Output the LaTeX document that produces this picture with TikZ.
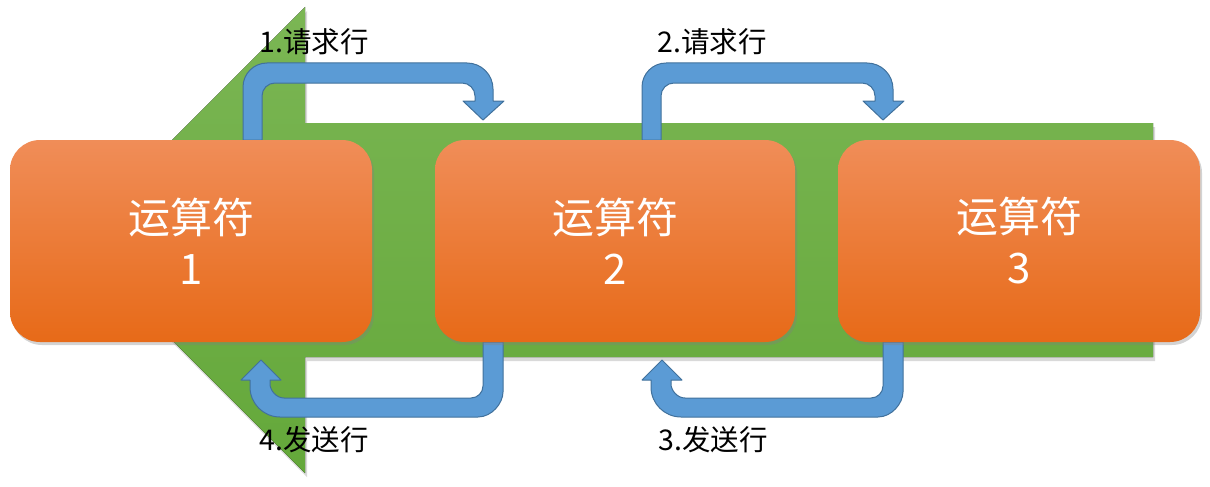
\documentclass[tikz,border=0pt]{standalone}
\usepackage{fontspec}
\setmainfont{Noto Sans CJK SC}
\usetikzlibrary{shadows}
\definecolor{gtop}{RGB}{123,182,84}
\definecolor{gbot}{RGB}{100,168,58}
\definecolor{otop}{RGB}{240,141,88}
\definecolor{omid}{RGB}{243,128,48}
\definecolor{obot}{RGB}{231,106,24}
\definecolor{bfill}{RGB}{91,155,213}
\definecolor{bline}{RGB}{65,113,156}
\tikzset{
  opbox/.style={rounded corners=30pt, minimum width=362pt, minimum height=202pt, inner sep=0pt,
    top color=otop, middle color=omid, bottom color=obot, draw=none,
    text=white, align=center, font=\fontsize{42}{51}\selectfont,
    drop shadow={shadow xshift=2pt, shadow yshift=-3pt, opacity=0.35}},
  blockarrow/.style={fill=bfill, draw=bline, line width=1pt, line join=round},
  lbl/.style={text=black, font=\fontsize{28.5}{32}\selectfont, inner sep=0pt}
}
% top U arrow: #1 shaft left x, #2 outer right x
\newcommand\toparrow[2]{%
  \draw[blockarrow] (#1,140) -- (#1,87) .. controls (#1,73.75) and ({#1+10.75},63) .. ({#1+24},63)
    -- ({#2-26},63) .. controls ({#2-11.65},63) and (#2,74.65) .. (#2,89)
    -- (#2,101) -- ({#2+11},101) -- ({#2-10},120) -- ({#2-30},101) -- ({#2-18},101)
    -- ({#2-18},96) .. controls ({#2-18},88.82) and ({#2-23.82},83) .. ({#2-31},83)
    -- ({#1+32},83) .. controls ({#1+24.82},83) and ({#1+19},88.82) .. ({#1+19},96)
    -- ({#1+19},140) -- cycle;}
% bottom U arrow: #1 shaft right x, #2 outer left x
\newcommand\botarrow[2]{%
  \draw[blockarrow] ({#1-20},342) -- ({#1-20},386) .. controls ({#1-20},392.62) and ({#1-25.38},398) .. ({#1-32},398)
    -- ({#2+34},398) .. controls ({#2+26.27},398) and ({#2+20},390.27) .. ({#2+20},384)
    -- ({#2+20},380) -- ({#2+31},380) -- ({#2+11},360) -- ({#2-9},380) -- (#2,380)
    -- (#2,387) .. controls (#2,403.56) and ({#2+13.44},417) .. ({#2+30},417)
    -- ({#1-25},417) .. controls ({#1-11.2},417) and (#1,403.2) .. (#1,392)
    -- (#1,342) -- cycle;}
\begin{document}
\begin{tikzpicture}[x=1pt,y=-1pt]
\useasboundingbox (0,0) rectangle (1210,487);
% big green arrow
\fill[top color=gtop, bottom color=gbot,
      drop shadow={shadow xshift=2pt, shadow yshift=-4pt, opacity=0.3}]
  (72,240) -- (305,7) -- (305,123) -- (1153,123) -- (1153,357) -- (305,357) -- (305,473) -- cycle;
% blue U-turn arrows
\toparrow{243}{493}
\toparrow{642}{893}
\botarrow{503}{250}
\botarrow{903}{651}
% operator boxes
\node[opbox] (b1) at (191,241) {运算符\\1};
\node[opbox, minimum width=360pt] (b2) at (615,241) {运算符\\2};
\node[opbox] (b3) at (1019,241) {运算符\\3};
% labels
\node[lbl] (l1) at (314,42) {1.请求行};
\node[lbl] (l2) at (712,42) {2.请求行};
\node[lbl] (l4) at (314,440) {4.发送行};
\node[lbl] (l3) at (713,440) {3.发送行};
\end{tikzpicture}
\end{document}
